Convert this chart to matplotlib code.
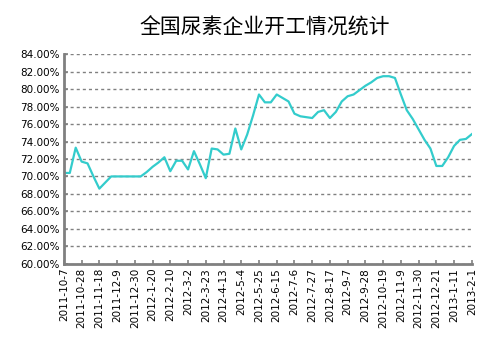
import matplotlib
matplotlib.use('Agg')
import matplotlib.pyplot as plt
import numpy as np

# weekly operating rate (%), 2011-10-7 .. 2013-2-1
rate = [70.4, 70.4, 73.3, 71.7, 71.5, 70.0, 68.6, 69.3, 70.0, 70.0,
        70.0, 70.0, 70.0, 70.0, 70.5, 71.1, 71.6, 72.2, 70.6, 71.8,
        71.8, 70.8, 72.9, 71.4, 69.8, 73.2, 73.1, 72.5, 72.6, 75.5,
        73.1, 74.8, 77.0, 79.4, 78.5, 78.5, 79.4, 79.0, 78.6, 77.2,
        76.9, 76.8, 76.7, 77.4, 77.6, 76.7, 77.4, 78.6, 79.2, 79.4,
        79.9, 80.4, 80.8, 81.3, 81.5, 81.5, 81.3, 79.4, 77.6, 76.6,
        75.4, 74.2, 73.2, 71.2, 71.2, 72.2, 73.5, 74.2, 74.3, 74.85]

# every third week is labelled
tick_labels = ['2011-10-7', '2011-10-28', '2011-11-18', '2011-12-9', '2011-12-30',
               '2012-1-20', '2012-2-10', '2012-3-2', '2012-3-23', '2012-4-13',
               '2012-5-4', '2012-5-25', '2012-6-15', '2012-7-6', '2012-7-27',
               '2012-8-17', '2012-9-7', '2012-9-28', '2012-10-19', '2012-11-9',
               '2012-11-30', '2012-12-21', '2013-1-11', '2013-2-1']
yticks = list(range(60, 86, 2))

fig = plt.figure(figsize=(5.03, 3.51), dpi=100)
ax = fig.add_axes([0.127, 0.249, 0.811, 0.596])

x = np.arange(len(rate))
ax.plot(x, rate, color='#33CCCC', linewidth=1.6)

ax.set_xlim(0, len(rate) - 1)
ax.set_ylim(60, 84)
ax.set_yticks(yticks)
ax.set_yticklabels(['%.2f%%' % v for v in yticks], fontsize=7.5)
ax.set_xticks(x[::3])
ax.set_xticklabels(tick_labels, rotation=90, fontsize=7.5, va='top', ha='center')

ax.yaxis.grid(True, color='#808080', linestyle=(0, (2.2, 2.2)), linewidth=1)
ax.set_axisbelow(True)
for s in ['top', 'right']:
    ax.spines[s].set_visible(False)
for s in ['left', 'bottom']:
    ax.spines[s].set_color('#808080')
    ax.spines[s].set_linewidth(2)
ax.tick_params(direction='in', length=3, width=1.2, color='#808080', pad=3)

fig.text(0.527, 0.92, '全国尿素企业开工情况统计', ha='center', va='center',
         fontsize=15, fontweight='medium', family=['Noto Sans CJK SC', 'DejaVu Sans'])

fig.savefig('out.png', dpi=100)
